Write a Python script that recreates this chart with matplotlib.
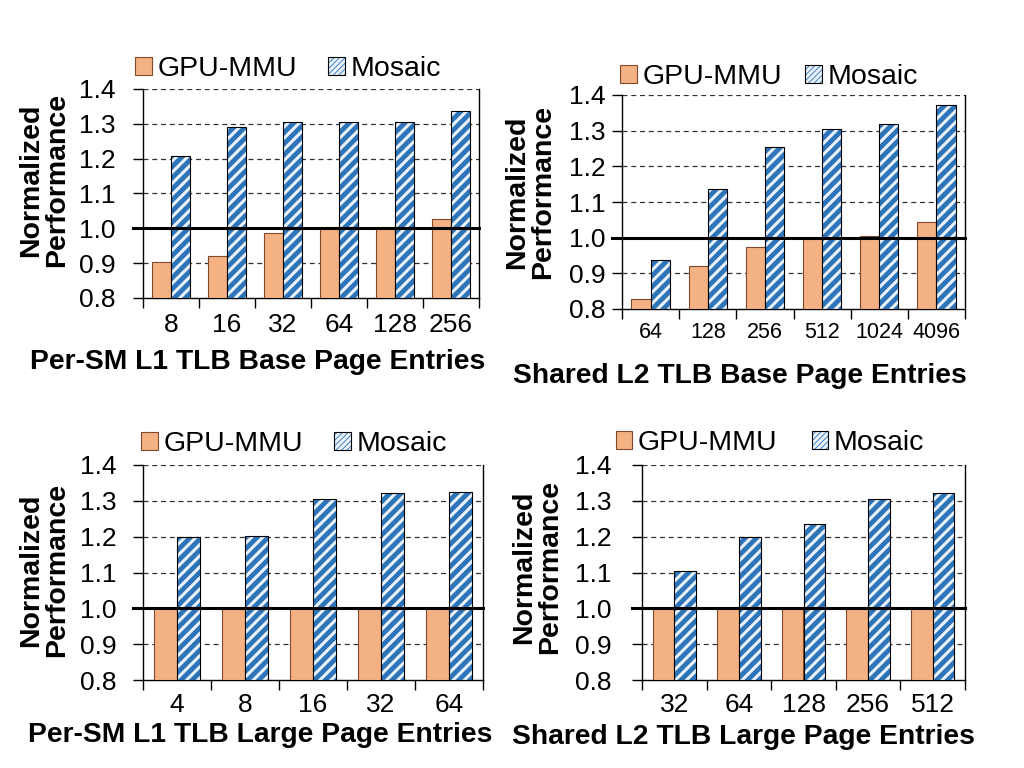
import matplotlib
matplotlib.use("Agg")
import matplotlib.pyplot as plt
from matplotlib.patches import Patch
from matplotlib.legend_handler import HandlerTuple
import numpy as np

plt.rcParams['font.family'] = ['Liberation Sans', 'DejaVu Sans']
plt.rcParams['hatch.linewidth'] = 2.2

# ---- data ----
tl_labels = ['8', '16', '32', '64', '128', '256']
tl_gpu = [0.902, 0.922, 0.988, 1.0, 1.0, 1.026]
tl_mosaic = [1.207, 1.292, 1.306, 1.306, 1.306, 1.338]

tr_labels = ['64', '128', '256', '512', '1024', '4096']
tr_gpu = [0.829, 0.920, 0.974, 1.0, 1.006, 1.043]
tr_mosaic = [0.937, 1.136, 1.254, 1.306, 1.319, 1.371]

bl_labels = ['4', '8', '16', '32', '64']
bl_gpu = [1.0, 1.0, 1.0, 1.0, 1.0]
bl_mosaic = [1.200, 1.202, 1.306, 1.323, 1.324]

br_labels = ['32', '64', '128', '256', '512']
br_gpu = [1.0, 1.0, 1.0, 1.0, 1.0]
br_mosaic = [1.103, 1.199, 1.235, 1.306, 1.323]

series_names = ['GPU-MMU', 'Mosaic']
ylabel = 'Normalized\nPerformance'
xlabels = ['Per-SM L1 TLB Base Page Entries', 'Shared L2 TLB Base Page Entries',
           'Per-SM L1 TLB Large Page Entries', 'Shared L2 TLB Large Page Entries']

ORANGE = '#F4B183'
ORANGE_EDGE = '#7F4A2A'
BLUE = '#2E74B8'
STRIPE = '#EAF2FB'
HATCH = '///'

W, H = 1024, 768
fig = plt.figure(figsize=(10.24, 7.68), dpi=100)


def px_axes(l, r, t, b):
    return fig.add_axes([l / W, 1 - b / H, (r - l) / W, (b - t) / H])


def draw_panel(ax, labels, gpu, mosaic, xtick_size, ytick_pad, xtick_pad):
    n = len(labels)
    x = np.arange(n)
    bw = 0.335
    ax.bar(x - bw / 2, np.array(gpu) - 0.8, bw, bottom=0.8, color=ORANGE,
           edgecolor=ORANGE_EDGE, linewidth=0.8, zorder=3)
    ax.bar(x + bw / 2, np.array(mosaic) - 0.8, bw, bottom=0.8, color=BLUE,
           edgecolor=STRIPE, linewidth=0, hatch=HATCH, zorder=3)
    ax.bar(x + bw / 2, np.array(mosaic) - 0.8, bw, bottom=0.8, fill=False,
           edgecolor='black', linewidth=0.8, zorder=4)
    ax.set_xlim(-0.5, n - 0.5)
    ax.set_ylim(0.8, 1.4)
    ax.set_yticks([0.8, 0.9, 1.0, 1.1, 1.2, 1.3, 1.4])
    ax.set_yticklabels(['0.8', '0.9', '1.0', '1.1', '1.2', '1.3', '1.4'])
    ax.set_xticks(x)
    ax.set_xticklabels(labels)
    ax.set_xticks(np.arange(n + 1) - 0.5, minor=True)
    ax.tick_params(axis='x', which='major', length=0, labelsize=xtick_size, pad=xtick_pad)
    ax.tick_params(axis='x', which='minor', length=7, width=1, direction='out')
    ax.tick_params(axis='y', length=7, width=1, direction='out', labelsize=19, pad=ytick_pad)
    for yv in [0.9, 1.1, 1.2, 1.3, 1.4]:
        ax.axhline(yv, color='#333333', linestyle=(0, (4, 3)), linewidth=0.9, zorder=1)
    ax.axhline(1.0, xmin=-0.03, xmax=1.0, color='black', linewidth=2.2, zorder=5, clip_on=False)
    ax.spines['top'].set_visible(False)
    for s in ['left', 'right', 'bottom']:
        ax.spines[s].set_linewidth(1.0)
        ax.spines[s].set_color('black')


def add_legend(ax, cx, cy, colspace):
    h1 = Patch(facecolor=ORANGE, edgecolor=ORANGE_EDGE, linewidth=0.8)
    h2a = Patch(facecolor=BLUE, edgecolor=STRIPE, linewidth=0, hatch='//////')
    h2b = Patch(fill=False, edgecolor='black', linewidth=0.8)
    ax.legend([h1, (h2a, h2b)], series_names, loc='center',
              bbox_to_anchor=(cx / W, 1 - cy / H), bbox_transform=fig.transFigure,
              ncol=2, frameon=False, fontsize=20.5, handlelength=0.58, handleheight=0.58,
              handletextpad=0.2, columnspacing=colspace, borderpad=0, borderaxespad=0,
              handler_map={tuple: HandlerTuple(ndivide=1, pad=0)})


ax1 = px_axes(143, 479, 89, 298)
draw_panel(ax1, tl_labels, tl_gpu, tl_mosaic, 19, 13, 11)
ax2 = px_axes(622, 965, 95, 309)
draw_panel(ax2, tr_labels, tr_gpu, tr_mosaic, 15.5, 5, 9)
ax3 = px_axes(143, 483, 465, 680)
draw_panel(ax3, bl_labels, bl_gpu, bl_mosaic, 19, 12, 9)
ax4 = px_axes(642, 965, 465, 680)
draw_panel(ax4, br_labels, br_gpu, br_mosaic, 19, 15, 9)

add_legend(ax1, 288, 69, 1.1)
add_legend(ax2, 769, 77, 0.8)
add_legend(ax3, 294, 444, 1.1)
add_legend(ax4, 770, 443, 1.2)

for (cx, cy) in [(44, 180), (530, 192), (44, 570), (537, 567)]:
    fig.text(cx / W, 1 - cy / H, ylabel, rotation=90, ha='center', va='center',
             fontsize=20.5, fontweight='bold', linespacing=1.0)

for (cx, cy), lab in zip([(258, 362), (740, 376), (260, 735), (743, 737)], xlabels):
    fig.text(cx / W, 1 - cy / H, lab, ha='center', va='center',
             fontsize=20.3, fontweight='bold')

fig.savefig('out.png', dpi=100)
